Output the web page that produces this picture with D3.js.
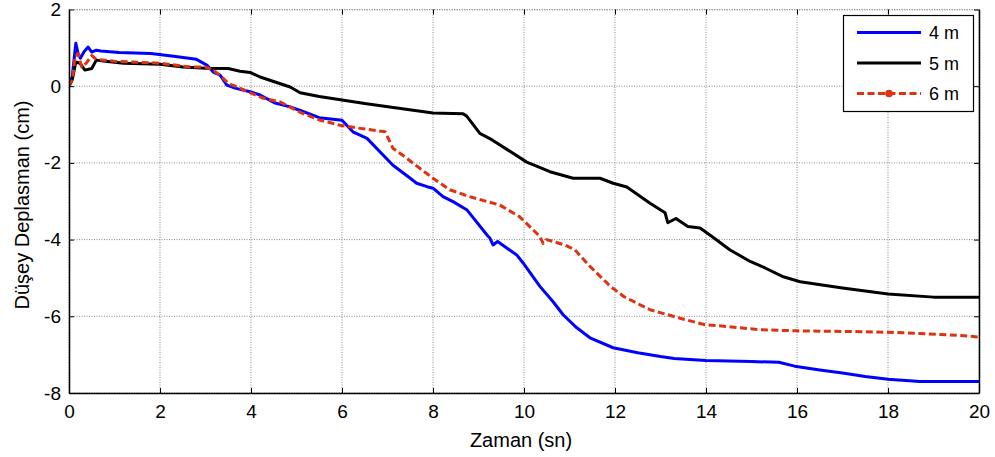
<!DOCTYPE html>
<html>
<head>
<meta charset="utf-8">
<script src="https://cdn.jsdelivr.net/npm/d3@7"></script>
<style>
body { margin: 0; background: #fff; }
text { font-family: "Liberation Sans", Arial, sans-serif; fill: #000; }
</style>
</head>
<body>
<svg id="chart" width="995" height="457"></svg>
<script>
// 4 m
var t4 = [0,0.07,0.15,0.2,0.25,0.33,0.42,0.5,0.6,0.7,1.1,1.8,2.3,2.8,3.03,3.17,3.32,3.47,3.65,4.0,4.2,4.53,4.86,5.1,5.5,6.0,6.24,6.55,7.12,7.5,7.64,7.87,8.0,8.22,8.44,8.75,9.2,9.25,9.32,9.42,9.62,9.84,9.98,10.2,10.35,10.64,10.86,11.16,11.45,11.96,12.5,13.0,13.3,14.0,15.0,15.6,15.95,16.5,17.0,17.5,18.0,18.7,20];
var d4 = [0,0.24,1.12,0.85,0.73,0.9,1.02,0.89,0.94,0.92,0.88,0.85,0.78,0.7,0.55,0.37,0.29,0.03,-0.05,-0.15,-0.23,-0.44,-0.54,-0.64,-0.82,-0.89,-1.19,-1.36,-2.06,-2.4,-2.53,-2.62,-2.66,-2.88,-3.01,-3.23,-3.9,-3.96,-4.14,-4.05,-4.22,-4.4,-4.61,-4.97,-5.22,-5.62,-5.96,-6.3,-6.56,-6.82,-6.95,-7.05,-7.1,-7.15,-7.18,-7.2,-7.3,-7.4,-7.48,-7.57,-7.64,-7.7,-7.7];
// 5 m
var t5 = [0,0.07,0.15,0.24,0.35,0.5,0.6,0.8,1.2,2.0,2.5,3.0,3.5,3.76,3.98,4.2,4.53,4.86,5.08,5.5,6.0,6.5,7.05,8.0,8.66,8.74,9.03,9.3,10.06,10.57,11.08,11.67,11.96,12.26,12.77,13.1,13.16,13.34,13.6,13.87,14.13,14.53,14.97,15.3,15.7,16.07,17.0,18.0,19.0,20];
var d5 = [0,0.16,0.63,0.6,0.42,0.46,0.68,0.65,0.6,0.57,0.5,0.47,0.46,0.39,0.36,0.24,0.11,-0.02,-0.17,-0.27,-0.36,-0.45,-0.54,-0.7,-0.72,-0.78,-1.23,-1.4,-1.98,-2.23,-2.4,-2.4,-2.53,-2.63,-3.05,-3.3,-3.56,-3.45,-3.66,-3.7,-3.92,-4.27,-4.57,-4.74,-4.97,-5.1,-5.26,-5.42,-5.5,-5.5];
// 6 m
var t6 = [0,0.08,0.13,0.2,0.28,0.38,0.5,0.6,1.0,2.0,2.66,3.0,3.17,3.36,3.5,3.7,4.0,4.26,4.64,5.08,5.5,5.96,6.4,6.95,7.12,7.38,7.71,8.0,8.37,8.8,9.47,9.9,10.35,10.42,10.5,10.9,11.12,11.45,11.9,12.2,12.77,13.43,13.98,14.5,15.2,16.0,17.4,18.4,18.7,19.6,20];
var d6 = [0,0.2,0.76,0.85,0.5,0.6,0.8,0.7,0.65,0.6,0.5,0.5,0.42,0.24,0.07,-0.02,-0.18,-0.31,-0.41,-0.68,-0.88,-1.02,-1.1,-1.19,-1.62,-1.84,-2.14,-2.4,-2.7,-2.88,-3.1,-3.4,-3.92,-4.1,-4.0,-4.14,-4.27,-4.7,-5.22,-5.49,-5.83,-6.05,-6.22,-6.27,-6.35,-6.38,-6.4,-6.43,-6.45,-6.5,-6.54];

var xTicks = [0,2,4,6,8,10,12,14,16,18,20];
var yTicks = [-8,-6,-4,-2,0,2];
var seriesNames = ["4 m", "5 m", "6 m"];
var seriesColors = ["#0000ff", "#000000", "#dd3311"];

var svg = d3.select("#chart");
var x = d3.scaleLinear().domain([0, 20]).range([69, 979]);
var y = d3.scaleLinear().domain([-8, 2]).range([393, 9.5]);
var fmt = function (v) { return String(v); };

svg.append("rect").attr("width", 995).attr("height", 457).attr("fill", "#fff");

// grid
var grid = svg.append("g");
xTicks.forEach(function (v) {
    grid.append("line")
        .attr("x1", x(v)).attr("x2", x(v)).attr("y1", y(-8)).attr("y2", y(2))
        .attr("stroke", "#888").attr("stroke-width", 1).attr("stroke-dasharray", "1,1.5");
});
yTicks.forEach(function (v) {
    grid.append("line")
        .attr("x1", x(0)).attr("x2", x(20)).attr("y1", y(v)).attr("y2", y(v))
        .attr("stroke", "#888").attr("stroke-width", 1).attr("stroke-dasharray", "1,1.5");
});

// lines
var series = [[t4, d4], [t5, d5], [t6, d6]];
var line = d3.line().x(function (d) { return x(d[0]); }).y(function (d) { return y(d[1]); });
svg.append("clipPath").attr("id", "clip").append("rect")
    .attr("x", x(0)).attr("y", y(2)).attr("width", x(20) - x(0)).attr("height", y(-8) - y(2));
var plot = svg.append("g").attr("clip-path", "url(#clip)");
series.forEach(function (s, i) {
    var pts = s[0].map(function (t, k) { return [t, s[1][k]]; });
    var p = plot.append("path").datum(pts)
        .attr("d", line).attr("fill", "none")
        .attr("stroke", seriesColors[i]).attr("stroke-width", 3)
        .attr("stroke-linejoin", "round");
    if (i == 2) p.attr("stroke-dasharray", "7,3.5");
});

// axes (box, ticks inside)
var axB = svg.append("g").attr("transform", "translate(0," + y(-8) + ")")
    .call(d3.axisBottom(x).tickValues(xTicks).tickFormat(fmt).tickSizeInner(-5).tickSizeOuter(0).tickPadding(12));
var axL = svg.append("g").attr("transform", "translate(" + x(0) + ",0)")
    .call(d3.axisLeft(y).tickValues(yTicks).tickFormat(fmt).tickSizeInner(-5).tickSizeOuter(0).tickPadding(8));
var axT = svg.append("g").attr("transform", "translate(0," + y(2) + ")")
    .call(d3.axisTop(x).tickValues(xTicks).tickSizeInner(-5).tickSizeOuter(0).tickFormat(""));
var axR = svg.append("g").attr("transform", "translate(" + x(20) + ",0)")
    .call(d3.axisRight(y).tickValues(yTicks).tickSizeInner(-5).tickSizeOuter(0).tickFormat(""));
[axB, axL, axT, axR].forEach(function (g) {
    g.selectAll("text").attr("font-size", 19).attr("font-family", "Liberation Sans, Arial, sans-serif").attr("fill", "#000");
    g.selectAll("line").attr("stroke", "#000");
    g.select(".domain").attr("stroke", "#000").attr("stroke-width", 1.5);
});
axT.select(".domain").attr("stroke", "#999").attr("stroke-width", 1).attr("stroke-dasharray", "1,1.5");

// axis labels
svg.append("text").attr("x", 521).attr("y", 447)
    .attr("text-anchor", "middle").attr("font-size", 20).text("Zaman (sn)");
svg.append("text").attr("transform", "translate(28.5,205) rotate(-90)")
    .attr("text-anchor", "middle").attr("font-size", 20).text("Düşey Deplasman (cm)");

// legend
var lg = svg.append("g");
lg.append("rect").attr("x", 843.5).attr("y", 15.5).attr("width", 130).attr("height", 96)
    .attr("fill", "#fff").attr("stroke", "#000").attr("stroke-width", 1.2);
seriesNames.forEach(function (n, i) {
    var ly = 32.5 + i * 30.5;
    var l = lg.append("line").attr("x1", 857).attr("x2", 921).attr("y1", ly).attr("y2", ly)
        .attr("stroke", seriesColors[i]).attr("stroke-width", 3);
    if (i == 2) {
        l.attr("stroke-dasharray", "7,3.5");
        lg.append("circle").attr("cx", 889).attr("cy", ly).attr("r", 3.8).attr("fill", seriesColors[i]);
    }
    lg.append("text").attr("x", 929).attr("y", ly + 6.5).attr("font-size", 18).text(n);
});
</script>
</body>
</html>
